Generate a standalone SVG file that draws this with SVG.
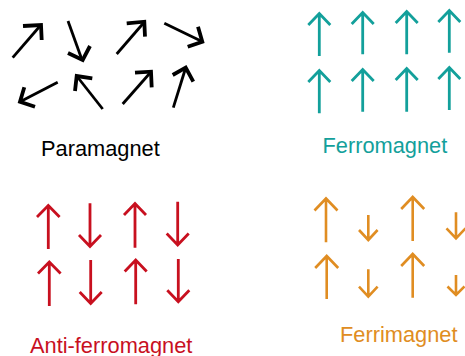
<svg xmlns="http://www.w3.org/2000/svg" width="465" height="356" viewBox="0 0 465 356">
<style>
.k{stroke:#000;fill:none;stroke-linecap:butt;stroke-linejoin:miter}
.k .s{stroke-width:2.8}
.k .h{stroke-width:3.8}
.t{stroke:#13a09b;fill:none;stroke-width:2.8}
.r{stroke:#c8101f;fill:none;stroke-width:2.8}
.o{stroke:#e08d22;fill:none;stroke-width:2.6}
.lbl{font-family:"Liberation Sans",Arial,sans-serif;font-size:21.8px;stroke:none}
</style>
<rect width="465" height="356" fill="#fff"/>
<g id="paramagnet" class="k">
<line class="s" x1="12.7" y1="57.7" x2="40" y2="26"/><polyline class="h" points="23,26 41,25 41.7,40"/>
<line class="s" x1="68" y1="21" x2="81.5" y2="58.5"/><polyline class="h" points="68,53 82.7,60 90,46"/>
<line class="s" x1="116.7" y1="54" x2="143.5" y2="23"/><polyline class="h" points="126.7,23.3 144.3,21.7 145,36.7"/>
<line class="s" x1="164.3" y1="23.3" x2="201" y2="41"/><polyline class="h" points="198,26.7 202.3,41.7 187.7,46.7"/>
<line class="s" x1="57.7" y1="82.3" x2="21.5" y2="101"/><polyline class="h" points="24.3,87.3 20,101.7 35,106.7"/>
<line class="s" x1="102.7" y1="109" x2="77.5" y2="77"/><polyline class="h" points="92.3,78.3 76.7,76 75,91"/>
<line class="s" x1="122.7" y1="104" x2="150" y2="73"/><polyline class="h" points="135,72.7 151,71.7 151.7,87.3"/>
<line class="s" x1="173.3" y1="107.7" x2="185.3" y2="69"/><polyline class="h" points="172.7,75 185.7,67.7 193.3,81.7"/>
<text class="lbl" x="41" y="155.5" fill="#000">Paramagnet</text>
</g>
<g id="ferromagnet" class="t">
<path d="M319.3 56V14M308.3 25L319.3 13.5L330.3 25"/>
<path d="M362.7 54.3V13M351.7 24L362.7 12.5L373.7 24"/>
<path d="M406.7 54.3V12M395.7 23L406.7 11.5L417.7 23"/>
<path d="M449.3 52.7V11M438.3 22L449.3 10.5L460.3 22"/>
<path d="M319.3 113.3V71M308.3 82L319.3 70.5L330.3 82"/>
<path d="M362.7 111.7V70M351.7 81L362.7 69.5L373.7 81"/>
<path d="M406.7 111.7V69M395.7 80L406.7 68.5L417.7 80"/>
<path d="M449.3 110V68M438.3 79L449.3 67.5L460.3 79"/>
<text class="lbl" x="322.5" y="152.7" fill="#13a09b">Ferromagnet</text>
</g>
<g id="antiferromagnet" class="r">
<path d="M48.3 249V206M37 217L48.3 205.5L59.6 217"/>
<path d="M90 203.3V246M79 235L90 246.5L101 235"/>
<path d="M135 247.7V204M124 215L135 203.5L146 215"/>
<path d="M177.7 201.7V244.5M166.7 233.5L177.7 245L188.7 233.5"/>
<path d="M49.3 306V262.5M38 273.5L49.3 262L60.6 273.5"/>
<path d="M90.7 260V303M79.7 292L90.7 303.5L101.7 292"/>
<path d="M135.7 304.3V260.5M124.7 271.5L135.7 260L146.7 271.5"/>
<path d="M178.3 259V301.2M167.3 290.2L178.3 301.7L189.3 290.2"/>
<text class="lbl" x="30" y="352.5" fill="#c8101f">Anti-ferromagnet</text>
</g>
<g id="ferrimagnet" class="o">
<path d="M326 242.3V199M314.5 210.5L326 198.5L337.5 210.5"/>
<path d="M368.3 215V239.5M359 230L368.3 240L377.6 230"/>
<path d="M412.7 241V197.5M401.2 209L412.7 197L424.2 209"/>
<path d="M456 212.3V237.8M446.5 228.3L456 238.3L465.5 228.3"/>
<path d="M326.7 299V256.5M315.2 268L326.7 256L338.2 268"/>
<path d="M368.3 269.3V296.2M359 286.7L368.3 296.7L377.6 286.7"/>
<path d="M412.7 297.7V254.5M401.2 266L412.7 254L424.2 266"/>
<path d="M456 275V294.5M447.5 286.5L456 295L464.5 286.5"/>
<text class="lbl" x="340" y="342.3" fill="#e08d22">Ferrimagnet</text>
</g>
</svg>
